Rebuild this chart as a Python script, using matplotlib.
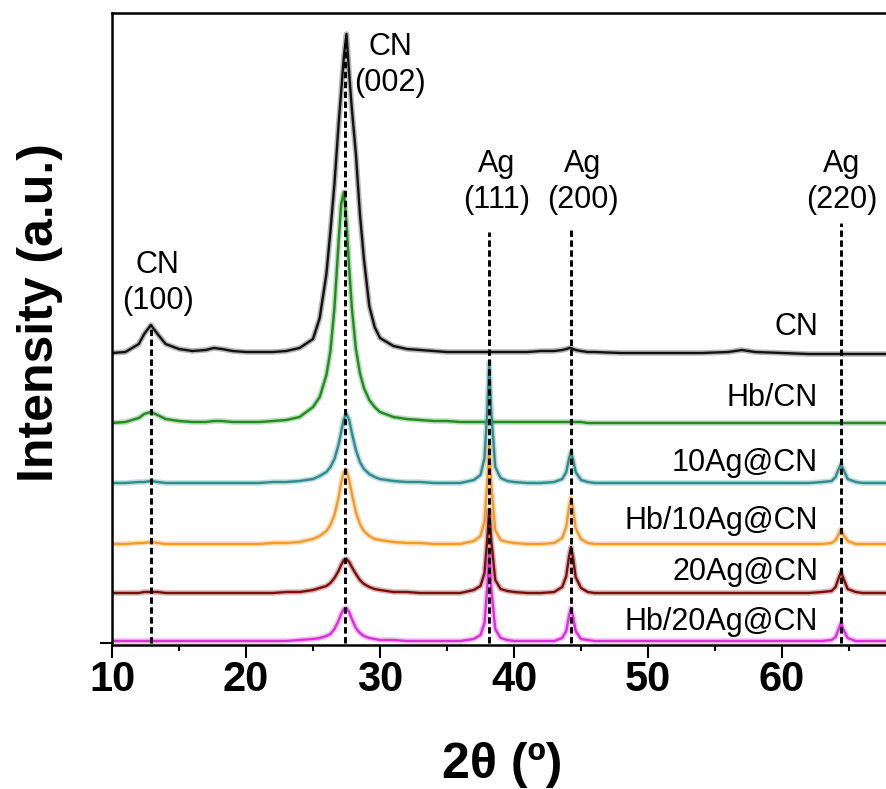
import numpy as np
import matplotlib
matplotlib.use('Agg')
import matplotlib.pyplot as plt
from matplotlib.ticker import MultipleLocator

# 2-theta grid (degrees) the traces were read at
two_theta = [10, 11, 12, 12.4, 12.9, 13.4, 14, 15, 16, 17,
             17.6, 18.2, 19, 20, 21, 22, 23, 24, 25, 25.5,
             26, 26.3, 26.6, 26.9, 27.1, 27.3, 27.5, 27.7, 27.9, 28.2,
             28.5, 28.8, 29.2, 29.6, 30, 31, 32, 33, 34, 35,
             36, 37, 37.5, 37.8, 38.0, 38.15, 38.3, 38.6, 39.0, 39.5,
             40, 41, 42, 43, 43.6, 43.9, 44.1, 44.25, 44.4, 44.6,
             45.0, 45.5, 46, 48, 50, 52, 54, 56, 57, 58,
             60, 62, 63, 63.7, 64.0, 64.2, 64.4, 64.6, 64.9, 65.5,
             66, 68, 70]

# intensities (a.u.) of each sample
cn = [1, 2, 10, 20, 29, 20, 10, 5, 3, 4,
      6, 5, 3, 2, 2, 2, 3, 6, 15, 36,
      80, 123, 170, 228, 262, 297, 320, 280, 245, 200,
      140, 95, 48, 27, 16, 8, 5, 4, 3, 2,
      2, 2, 2, 2, 2, 2, 2, 2, 2, 2,
      2, 2, 3, 3, 4, 5, 6, 6, 5, 4,
      3, 2, 2, 1, 1, 1, 1, 2, 4, 2,
      1, 0, 0, 0, 0, 0, 0, 0, 0, 0,
      0, 0, 0]
hb_cn = [2, 3, 7, 11, 13, 10, 6, 4, 3, 3,
         4, 4, 3, 3, 3, 4, 5, 8, 18, 28,
         50, 74, 117, 181, 221, 233, 203, 157, 117, 76,
         52, 37, 25, 18, 13, 8, 6, 5, 4, 4,
         3, 3, 3, 3, 3, 3, 3, 3, 3, 3,
         3, 3, 3, 3, 3, 3, 3, 3, 3, 3,
         3, 2, 2, 2, 2, 2, 2, 2, 2, 2,
         2, 2, 2, 2, 2, 2, 2, 2, 2, 2,
         2, 2, 2]
ag10_cn = [2, 2, 3, 3, 4, 3, 2, 2, 2, 2,
           2, 2, 2, 2, 2, 3, 3, 4, 6, 9,
           13, 18, 26, 40, 53, 66, 71, 65, 52, 35,
           23, 16, 11, 8, 6, 4, 3, 3, 2, 2,
           2, 5, 10, 27, 73, 123, 73, 18, 7, 4,
           3, 2, 2, 3, 6, 13, 26, 33, 26, 13,
           5, 3, 2, 2, 2, 2, 2, 2, 2, 2,
           2, 2, 3, 4, 8, 15, 21, 15, 6, 3,
           2, 2, 2]
hb_ag10_cn = [2, 2, 3, 3, 4, 3, 2, 2, 2, 2,
              2, 2, 2, 2, 2, 3, 3, 4, 7, 10,
              15, 21, 31, 48, 63, 74, 76, 66, 52, 34,
              22, 15, 10, 7, 6, 4, 3, 3, 2, 2,
              2, 5, 10, 25, 62, 100, 62, 16, 6, 4,
              3, 2, 2, 3, 8, 19, 38, 48, 38, 18,
              7, 3, 2, 2, 2, 2, 2, 2, 2, 2,
              2, 2, 2, 3, 6, 11, 17, 11, 5, 2,
              2, 2, 2]
ag20_cn = [2, 2, 2, 3, 3, 3, 2, 2, 2, 2,
           2, 2, 2, 2, 2, 2, 3, 3, 5, 7,
           9, 12, 17, 24, 30, 35, 36, 33, 28, 21,
           15, 11, 8, 6, 5, 3, 3, 2, 2, 2,
           2, 5, 9, 22, 55, 85, 55, 15, 6, 4,
           3, 2, 2, 3, 8, 19, 38, 48, 38, 18,
           7, 3, 2, 2, 2, 2, 2, 2, 2, 2,
           2, 2, 3, 4, 8, 16, 23, 16, 6, 3,
           2, 2, 2]
hb_ag20_cn = [2, 2, 2, 2, 2, 2, 2, 2, 2, 2,
              2, 2, 2, 2, 2, 2, 2, 3, 4, 5,
              7, 9, 14, 22, 29, 34, 35, 31, 24, 15,
              10, 7, 5, 4, 3, 3, 2, 2, 2, 2,
              2, 4, 8, 20, 55, 88, 55, 14, 5, 3,
              2, 2, 2, 2, 5, 12, 27, 35, 27, 12,
              4, 3, 2, 2, 2, 2, 2, 2, 2, 2,
              2, 2, 2, 3, 6, 13, 20, 13, 5, 2,
              2, 2, 2]

sample_names = ['CN', 'Hb/CN', '10Ag@CN', 'Hb/10Ag@CN', '20Ag@CN', 'Hb/20Ag@CN']
offsets = [289, 218, 158, 97, 48, 0]
colors = ['#111111', '#1f8c1f', '#2e8b8e', '#f39a2c', '#7d0d0d', '#dd2ddd']
label_y = [316, 245, 180, 122, 71, 21]

# reference peaks: position, label, top of the guide line
peak_pos = [12.9, 27.4, 38.13, 44.25, 64.4]
peak_names = ['CN\n(100)', 'CN\n(002)', 'Ag\n(111)', 'Ag\n(200)', 'Ag\n(220)']
peak_line_top = [318, 600, 411, 413, 420]
peak_label_xy = [(13.4, 360), (30.75, 578), (38.73, 461), (45.15, 461), (64.48, 461)]

x_ticks = [10, 20, 30, 40, 50, 60]

series = [cn, hb_cn, ag10_cn, hb_ag10_cn, ag20_cn, hb_ag20_cn]

W, H = 886, 789
fig = plt.figure(figsize=(W / 100, H / 100), dpi=100)
# axes runs past the right edge of the picture, like the cropped original
x0, x1 = 10, 70
ax = fig.add_axes([112 / W, (H - 645) / H, (x1 - x0) * 13.4 / W, 632 / H])

x = np.array(two_theta)
for ys, off, c in zip(series, offsets, colors):
    y = np.array(ys) + off
    ax.plot(x, y, color=c, lw=4.0, alpha=0.3, solid_joinstyle='round')
    ax.plot(x, y, color=c, lw=1.7, solid_joinstyle='round')

ax.vlines(peak_pos, 0, peak_line_top, colors='black', lw=2.1,
          linestyles=(0, (2.2, 1.2)), zorder=5)

txt = dict(family='Liberation Sans', fontsize=22)
for name, (px, py) in zip(peak_names, peak_label_xy):
    ax.text(px, py, name, ha='center', va='center', linespacing=1.3, **txt)
for name, ly in zip(sample_names, label_y):
    ax.text(62.7, ly, name, ha='right', va='center', **txt)

ax.set_xlim(x0, x1)
ax.set_ylim(-2, 630)
ax.set_xticks(x_ticks, [str(v) for v in x_ticks],
              fontsize=30, fontweight='bold', family='Liberation Sans')
ax.xaxis.set_minor_locator(MultipleLocator(5))
ax.set_yticks([0], [''])
ax.tick_params(which='major', direction='out', length=9, width=1.5, pad=2)
ax.tick_params(which='minor', direction='out', length=4.5, width=1.5)
for s in ax.spines.values():
    s.set_linewidth(1.8)

fig.text(40 / W, 1 - 313 / H, 'Intensity (a.u.)', rotation=90, ha='center',
         va='center', fontsize=36, fontweight='bold', family='Liberation Sans')
fig.text(502 / W, 1 - 765 / H, '2θ (º)', ha='center', va='center',
         fontsize=36, fontweight='bold', family='Liberation Sans')

fig.savefig('out.png', dpi=100)
